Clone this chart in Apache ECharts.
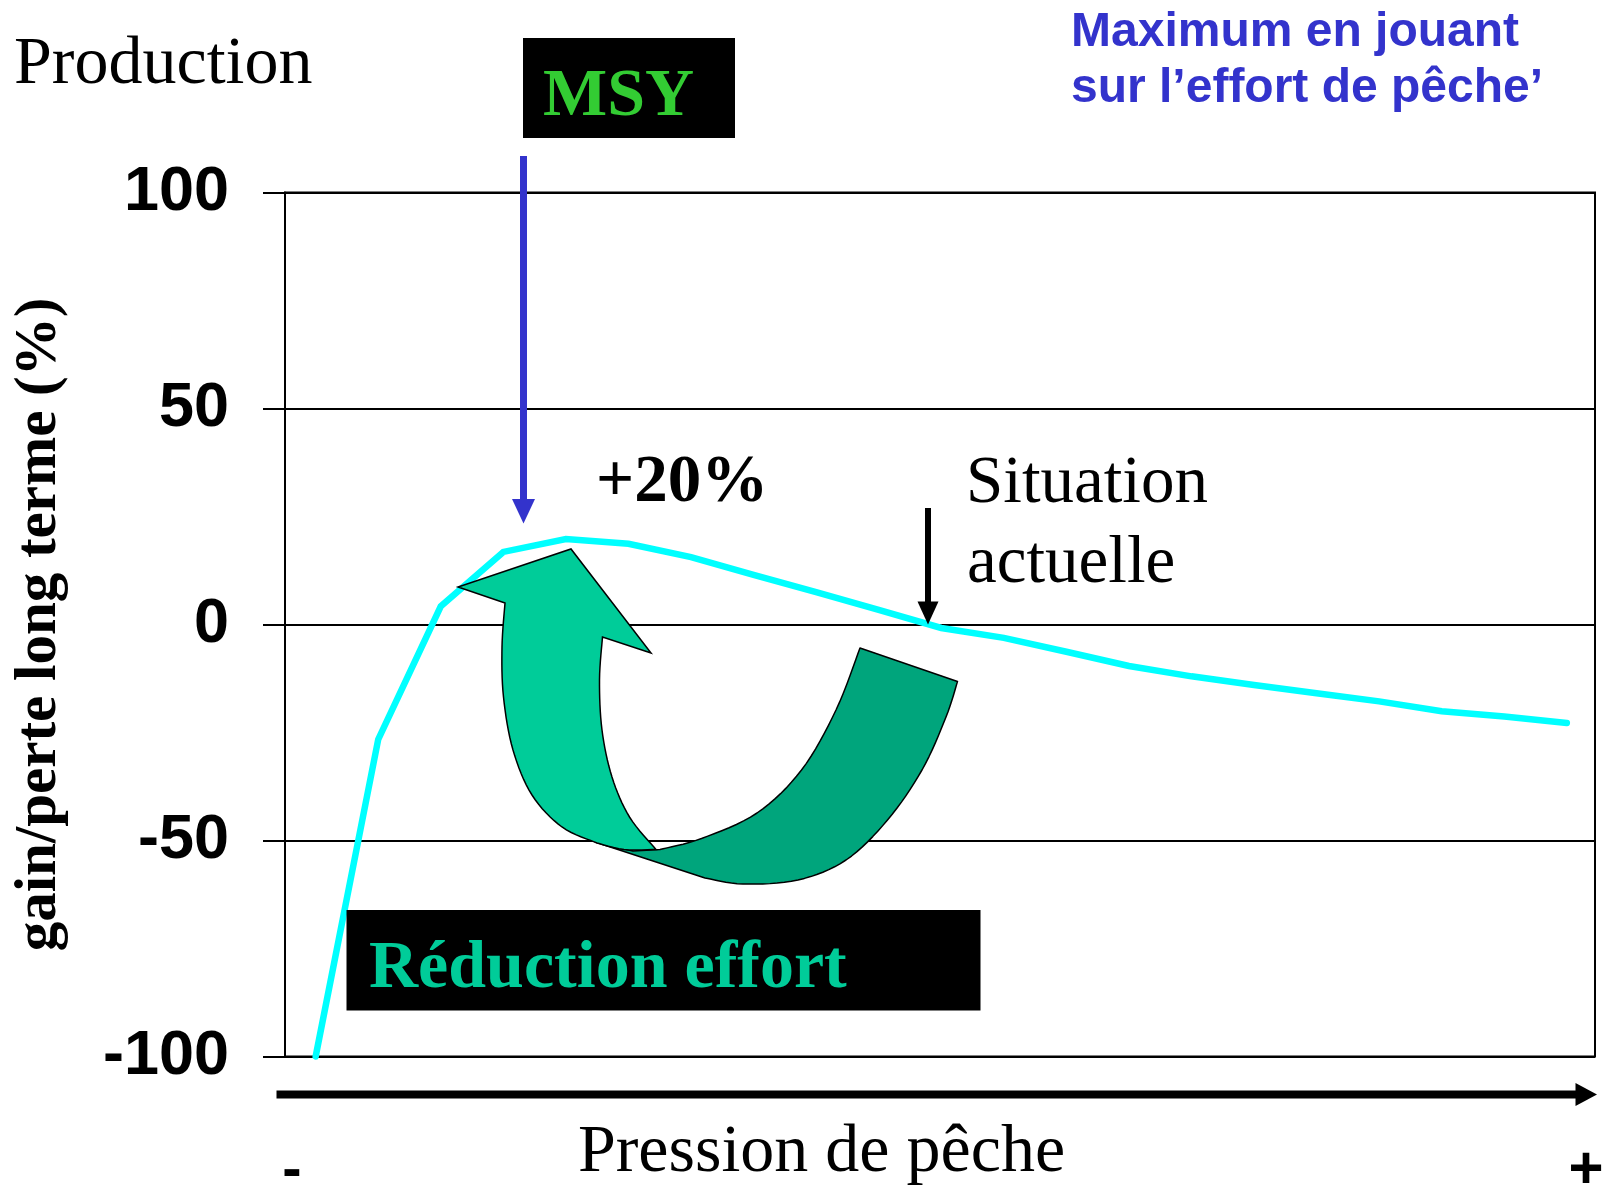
<!DOCTYPE html>
<html>
<head>
<meta charset="utf-8">
<title>Production - MSY</title>
<script src="https://cdn.jsdelivr.net/npm/echarts@6/dist/echarts.min.js"></script>
<style>
  html, body { margin: 0; padding: 0; background: #fff; }
  #main { width: 1606px; height: 1188px; }
</style>
</head>
<body>
<div id="main"></div>
<script>
// steps of fishing pressure (x axis has no labels, only "-" ... "+")
var effortSteps = [0, 1, 2, 3, 4, 5, 6, 7, 8, 9, 10, 11, 12, 13, 14, 15, 16, 17, 18, 19, 20];
// long term gain / loss in %
var gainLoss = [-100, -26.6, 4.2, 16.8, 19.8, 18.7, 15.6, 11.5, 7.5, 3.4, -0.8, -3.1, -6.3, -9.6, -12, -14, -15.9, -17.8, -20.1, -21.3, -22.8];
var yTicks = [-100, -50, 0, 50, 100];

var serif = 'Liberation Serif';
var sans = 'Liberation Sans';

// catmull-rom sampling, used for the curved green arrow outline
function smooth(pts, n) {
    var out = [];
    for (var i = 0; i < pts.length - 1; i++) {
        var p0 = pts[Math.max(i - 1, 0)], p1 = pts[i], p2 = pts[i + 1], p3 = pts[Math.min(i + 2, pts.length - 1)];
        for (var k = 0; k < n; k++) {
            var t = k / n, t2 = t * t, t3 = t2 * t;
            var pt = [];
            for (var d = 0; d < 2; d++) {
                pt.push(0.5 * (2 * p1[d] + (-p0[d] + p2[d]) * t +
                    (2 * p0[d] - 5 * p1[d] + 4 * p2[d] - p3[d]) * t2 +
                    (-p0[d] + 3 * p1[d] - 3 * p2[d] + p3[d]) * t3));
            }
            out.push(pt);
        }
    }
    out.push(pts[pts.length - 1]);
    return out;
}

// light part: arrow head + shaft going up
var lightShape = [[505, 603], [458, 587], [571, 549], [651, 653], [602.5, 637]]
    .concat(smooth([[602.5, 637], [599.5, 680], [602, 730], [612, 777], [629.5, 817], [656, 849.5]], 8).slice(1))
    .concat(smooth([[656, 849.5], [624, 849.5], [597, 843]], 6).slice(1))
    .concat(smooth([[597, 843], [562, 827], [532, 795], [513, 750], [503.5, 697], [502, 647], [505, 603]], 8).slice(1));

// dark part: ribbon coming from the right
var darkShape = [[860, 648], [957.5, 681.5]]
    .concat(smooth([[957.5, 681.5], [946, 717], [922, 770], [887.5, 820], [846, 860], [798, 880], [743, 884], [705, 878]], 8).slice(1))
    .concat([[595, 842], [633, 851]])
    .concat(smooth([[660, 849.5], [701.5, 838.5], [757, 813], [801.5, 770], [836, 710], [860, 648]], 8));

function txt(text, x, y, size, family, weight, color, align) {
    return {
        type: 'text', z: 60,
        style: {
            text: text, x: x, y: y, fill: color,
            fontSize: size, fontFamily: family, fontWeight: weight,
            align: align || 'left', verticalAlign: 'middle'
        }
    };
}
function seg(x1, y1, x2, y2, w, color) {
    return { type: 'line', z: 55, shape: { x1: x1, y1: y1, x2: x2, y2: y2 }, style: { stroke: color, lineWidth: w } };
}
function head(points, color) {
    return { type: 'polygon', z: 55, shape: { points: points }, style: { fill: color } };
}

var chart = echarts.init(document.getElementById('main'), null, { renderer: 'canvas' });

chart.setOption({
    animation: false,
    backgroundColor: '#ffffff',
    grid: {
        left: 285, right: 11, top: 192.5, bottom: 131.5,
        containLabel: false, outerBoundsMode: 'none',
        show: true, borderColor: '#000', borderWidth: 2, backgroundColor: 'transparent'
    },
    xAxis: {
        type: 'value', min: -0.49, max: 20.45, show: false
    },
    yAxis: {
        type: 'value',
        min: yTicks[0], max: yTicks[yTicks.length - 1], interval: yTicks[1] - yTicks[0],
        name: 'gain/perte long terme (%)',
        nameLocation: 'middle', nameGap: 216,
        nameTextStyle: { fontFamily: serif, fontWeight: 'bold', fontSize: 59, color: '#000' },
        axisLine: { show: true, onZero: false, lineStyle: { color: '#000', width: 2 } },
        axisTick: { show: true, length: 22, lineStyle: { color: '#000', width: 2 } },
        axisLabel: { margin: 56, padding: [12, 0, 0, 0], fontFamily: sans, fontWeight: 'bold', fontSize: 63, color: '#000' },
        splitLine: { show: true, lineStyle: { color: '#000', width: 2 } }
    },
    series: [{
        type: 'line',
        data: effortSteps.map(function (x, i) { return [x, gainLoss[i]]; }),
        symbol: 'none',
        clip: false,
        silent: true,
        lineStyle: { color: '#00ffff', width: 6.5, cap: 'round', join: 'miter' },
        z: 3
    }],
    graphic: [
        txt('Production', 14, 65, 68, serif, 'normal', '#000'),
        { type: 'rect', z: 50, shape: { x: 523, y: 38, width: 212, height: 100 }, style: { fill: '#000' } },
        txt('MSY', 543, 97, 68, serif, 'bold', '#33cc33'),
        txt('Maximum en jouant', 1071, 32.5, 48, sans, 'bold', '#3333cc'),
        txt('sur l\u2019effort de p\u00eache\u2019', 1071, 89, 48, sans, 'bold', '#3333cc'),

        // MSY arrow
        seg(523.5, 156, 523.5, 502, 7, '#3333cc'),
        head([[512, 499], [535, 499], [523.5, 523.5]], '#3333cc'),

        // current situation arrow
        seg(928, 508, 928, 605, 6, '#000'),
        head([[917.5, 601.5], [938.5, 601.5], [928, 624.5]], '#000'),

        txt('+20%', 596, 484, 67, serif, 'bold', '#000'),
        txt('Situation', 966, 484, 67, serif, 'normal', '#000'),
        txt('actuelle', 967, 564.5, 67, serif, 'normal', '#000'),

        // curved green arrow
        { type: 'polygon', z: 56, shape: { points: darkShape }, style: { fill: '#00a57c', stroke: '#000', lineWidth: 1.5, lineJoin: 'round' } },
        { type: 'polygon', z: 57, shape: { points: lightShape }, style: { fill: '#00cc99', stroke: '#000', lineWidth: 1.5, lineJoin: 'miter' } },

        { type: 'rect', z: 58, shape: { x: 346.5, y: 910, width: 634, height: 100.5 }, style: { fill: '#000' } },
        txt('R\u00e9duction effort', 369, 969, 68, serif, 'bold', '#00cc99'),

        // pressure axis arrow
        seg(276.5, 1094.5, 1578, 1094.5, 8, '#000'),
        head([[1575.5, 1083], [1575.5, 1106], [1597, 1094.5]], '#000'),
        txt('Pression de p\u00eache', 821.5, 1153, 68, serif, 'normal', '#000', 'center'),
        txt('-', 292, 1172, 58, sans, 'bold', '#000', 'center'),
        txt('+', 1586, 1171, 60, sans, 'bold', '#000', 'center')
    ]
});
</script>
</body>
</html>
